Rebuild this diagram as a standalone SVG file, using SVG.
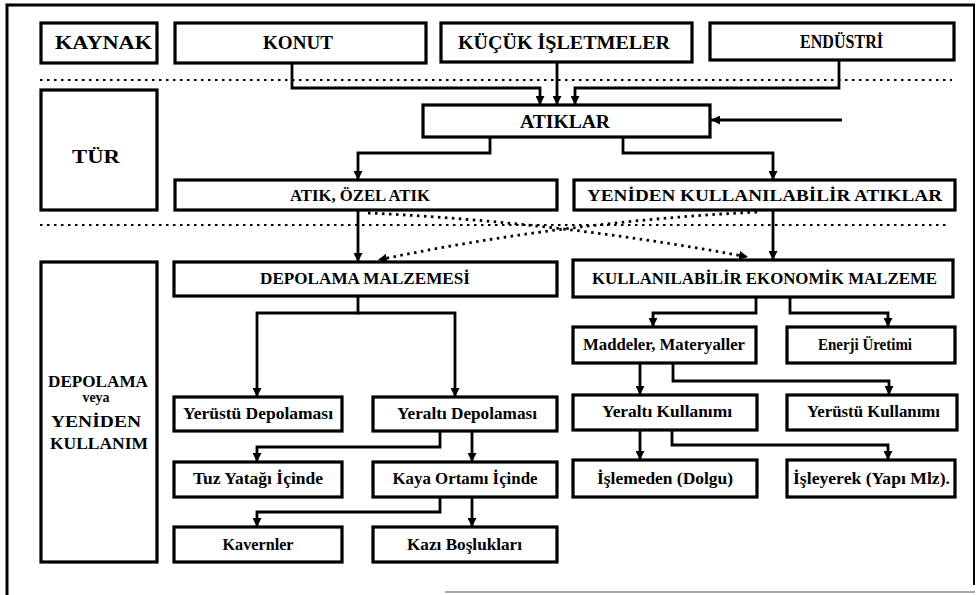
<svg xmlns="http://www.w3.org/2000/svg" width="977" height="595" viewBox="0 0 977 595">
<style>
.box{fill:#fff;stroke:#000;stroke-width:3.2}
.t{font-family:"Liberation Serif","Times New Roman",serif;font-weight:bold;fill:#000;text-anchor:middle}
.cap{font-size:19px}
.cap2{font-size:17.5px}
.low{font-size:17px}
.c{fill:none;stroke:#000;stroke-width:2.8}
.d{fill:none;stroke:#000;stroke-width:2.8;stroke-dasharray:2.5 4.5}
.sep{fill:none;stroke:#000;stroke-width:2.2;stroke-dasharray:2.5 4.5}
</style>
<defs>
<marker id="ah" viewBox="0 0 10 10" refX="10" refY="5" markerWidth="9" markerHeight="9" markerUnits="userSpaceOnUse" orient="auto">
<path d="M0,0 L10,5 L0,10 z" fill="#000"/>
</marker>
</defs>
<rect width="977" height="595" fill="#fff"/>
<g id="frame">
<path d="M7 595 V5 H975" fill="none" stroke="#000" stroke-width="3"/>
<path d="M974 5 V585" fill="none" stroke="#000" stroke-width="2"/>
<path d="M445 592 H975" fill="none" stroke="#888" stroke-width="1.5"/>
<path d="M40 80 H952" class="sep"/>
<path d="M40 225 H950" class="sep"/>
</g>
<g id="connectors">
<path class="c" d="M292 63 V88 H540 V105" marker-end="url(#ah)"/>
<path class="c" d="M557 62 V105" marker-end="url(#ah)"/>
<path class="c" d="M839 60 V88 H575 V105" marker-end="url(#ah)"/>
<path class="c" d="M842 120 H711" marker-end="url(#ah)"/>
<path class="c" d="M490 137 V153 H358 V180" marker-end="url(#ah)"/>
<path class="c" d="M623 137 V153 H773 V180" marker-end="url(#ah)"/>
<path class="c" d="M358 210 V262" marker-end="url(#ah)"/>
<path class="c" d="M773 210 V260" marker-end="url(#ah)"/>
<path class="d" d="M368 213 Q560 222 748 257" marker-end="url(#ah)"/>
<path class="d" d="M757 212 Q560 222 378 260" marker-end="url(#ah)"/>
<path class="c" d="M358 296 V313 H257 V397" marker-end="url(#ah)"/>
<path class="c" d="M358 313 H455 V397" marker-end="url(#ah)"/>
<path class="c" d="M440 431 V447 H257 V462" marker-end="url(#ah)"/>
<path class="c" d="M472 431 V462" marker-end="url(#ah)"/>
<path class="c" d="M440 497 V512 H257 V527" marker-end="url(#ah)"/>
<path class="c" d="M472 497 V527" marker-end="url(#ah)"/>
<path class="c" d="M756 297 V313 H653 V327" marker-end="url(#ah)"/>
<path class="c" d="M790 297 V313 H888 V327" marker-end="url(#ah)"/>
<path class="c" d="M640 363 V395" marker-end="url(#ah)"/>
<path class="c" d="M673 363 V381 H889 V395" marker-end="url(#ah)"/>
<path class="c" d="M640 430 V460" marker-end="url(#ah)"/>
<path class="c" d="M672 430 V445 H888 V460" marker-end="url(#ah)"/>
</g>
<g id="kaynak"><rect class="box" x="41" y="23" width="116" height="40"/><text class="t cap" x="103.5" y="49" textLength="97" lengthAdjust="spacingAndGlyphs">KAYNAK</text></g>
<g id="konut"><rect class="box" x="175" y="23" width="251" height="40"/><text class="t cap" x="298" y="49" textLength="70" lengthAdjust="spacingAndGlyphs">KONUT</text></g>
<g id="kucuk"><rect class="box" x="441" y="23" width="251" height="39"/><text class="t cap" x="564" y="49" textLength="212" lengthAdjust="spacingAndGlyphs">KÜÇÜK İŞLETMELER</text></g>
<g id="endustri"><rect class="box" x="710" y="23" width="244" height="37"/><text class="t cap" x="841.5" y="48" textLength="83" lengthAdjust="spacingAndGlyphs">ENDÜSTRİ</text></g>
<g id="tur"><rect class="box" x="41" y="90" width="116" height="120"/><text class="t cap" x="96" y="163" textLength="48" lengthAdjust="spacingAndGlyphs">TÜR</text></g>
<g id="atiklar"><rect class="box" x="423" y="105" width="287" height="32"/><text class="t cap" x="565" y="128" textLength="90" lengthAdjust="spacingAndGlyphs">ATIKLAR</text></g>
<g id="atik-ozel"><rect class="box" x="175" y="180" width="382" height="30"/><text class="t cap2" x="360" y="201" textLength="140" lengthAdjust="spacingAndGlyphs">ATIK, ÖZEL ATIK</text></g>
<g id="yeniden-atiklar"><rect class="box" x="574" y="180" width="381" height="30"/><text class="t cap2" x="764.5" y="201" textLength="355" lengthAdjust="spacingAndGlyphs">YENİDEN KULLANILABİLİR ATIKLAR</text></g>
<g id="depolama-yeniden"><rect class="box" x="41" y="262" width="116" height="300"/>
<text class="t cap2" x="98" y="387" textLength="100" lengthAdjust="spacingAndGlyphs">DEPOLAMA</text>
<text class="t" style="font-size:14px" x="96" y="402" textLength="27" lengthAdjust="spacingAndGlyphs">veya</text>
<text class="t cap2" x="96" y="427" textLength="90" lengthAdjust="spacingAndGlyphs">YENİDEN</text>
<text class="t cap2" x="99" y="449" textLength="98" lengthAdjust="spacingAndGlyphs">KULLANIM</text></g>
<g id="depolama-malzemesi"><rect class="box" x="174" y="262" width="383" height="34"/><text class="t cap2" x="365" y="284" textLength="210" lengthAdjust="spacingAndGlyphs">DEPOLAMA MALZEMESİ</text></g>
<g id="kullanilabilir"><rect class="box" x="573" y="260" width="380" height="37"/><text class="t cap2" x="764.5" y="284" textLength="345" lengthAdjust="spacingAndGlyphs">KULLANILABİLİR EKONOMİK MALZEME</text></g>
<g id="yerustu-depolama"><rect class="box" x="174" y="397" width="168" height="34"/><text class="t low" x="258" y="419" textLength="150" lengthAdjust="spacingAndGlyphs">Yerüstü Depolaması</text></g>
<g id="yeralti-depolama"><rect class="box" x="373" y="397" width="184" height="34"/><text class="t low" x="467" y="419" textLength="140" lengthAdjust="spacingAndGlyphs">Yeraltı Depolaması</text></g>
<g id="tuz"><rect class="box" x="174" y="462" width="168" height="35"/><text class="t low" x="258" y="484" textLength="130" lengthAdjust="spacingAndGlyphs">Tuz Yatağı İçinde</text></g>
<g id="kaya"><rect class="box" x="373" y="462" width="184" height="35"/><text class="t low" x="465" y="484" textLength="145" lengthAdjust="spacingAndGlyphs">Kaya Ortamı İçinde</text></g>
<g id="kavernler"><rect class="box" x="174" y="527" width="168" height="35"/><text class="t low" x="258" y="550" textLength="71" lengthAdjust="spacingAndGlyphs">Kavernler</text></g>
<g id="kazi"><rect class="box" x="373" y="527" width="184" height="35"/><text class="t low" x="464.5" y="550" textLength="115" lengthAdjust="spacingAndGlyphs">Kazı Boşlukları</text></g>
<g id="maddeler"><rect class="box" x="573" y="327" width="183" height="36"/><text class="t low" x="664" y="350" textLength="162" lengthAdjust="spacingAndGlyphs">Maddeler, Materyaller</text></g>
<g id="enerji"><rect class="box" x="787" y="327" width="168" height="36"/><text class="t low" x="865" y="350" textLength="94" lengthAdjust="spacingAndGlyphs">Enerji Üretimi</text></g>
<g id="yeralti-kullanim"><rect class="box" x="573" y="395" width="184" height="35"/><text class="t low" x="667" y="417" textLength="130" lengthAdjust="spacingAndGlyphs">Yeraltı Kullanımı</text></g>
<g id="yerustu-kullanim"><rect class="box" x="787" y="395" width="170" height="35"/><text class="t low" x="873.5" y="417" textLength="133" lengthAdjust="spacingAndGlyphs">Yerüstü Kullanımı</text></g>
<g id="islemeden"><rect class="box" x="573" y="460" width="184" height="37"/><text class="t low" x="665" y="484" textLength="136" lengthAdjust="spacingAndGlyphs">İşlemeden (Dolgu)</text></g>
<g id="isleyerek"><rect class="box" x="787" y="460" width="168" height="37"/><text class="t low" x="871.5" y="484" textLength="157" lengthAdjust="spacingAndGlyphs">İşleyerek (Yapı Mlz).</text></g>
</svg>
